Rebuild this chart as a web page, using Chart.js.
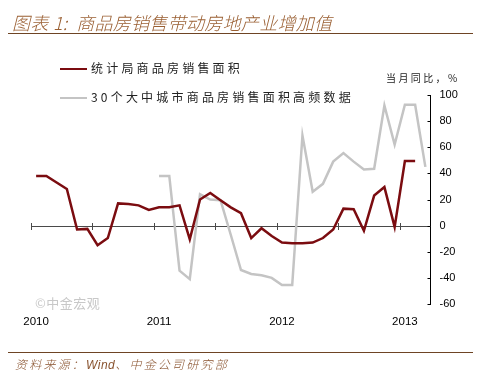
<!DOCTYPE html>
<html>
<head>
<meta charset="utf-8">
<script src="https://cdn.jsdelivr.net/npm/chart.js@4"></script>
<style>
  body { margin: 0; background: #fff; width: 483px; height: 381px; overflow: hidden; position: relative; font-family: "Noto Sans CJK SC", sans-serif; }
  #chart1 { position: absolute; left: 0; top: 0; }
  .title { position: absolute; left: 12px; top: 9px; font-size: 18px; font-weight: 300; font-style: italic; color: #9a5f32; letter-spacing: 0.3px; white-space: nowrap; }
  .rule { position: absolute; left: 8px; width: 465px; height: 0; border-top: 1.5px solid #6e4424; }
  .legend-item { position: absolute; left: 60px; font-size: 12px; color: #222; letter-spacing: 3.2px; white-space: nowrap; }
  .legend-item span { display: inline-block; width: 27px; height: 0; border-top: 2.5px solid; vertical-align: middle; margin-right: 4px; position: relative; top: -1px; }
  .unit { position: absolute; left: 386px; top: 70px; font-size: 10px; letter-spacing: 2.4px; color: #222; white-space: nowrap; }
  .mark { position: absolute; left: 35px; top: 293px; font-size: 13px; color: #c8c8c8; letter-spacing: 0.5px; }
  .source { position: absolute; left: 15px; top: 355px; font-size: 12px; font-weight: 300; font-style: italic; color: #8a5430; letter-spacing: 2.2px; white-space: nowrap; }
  .source b { font-family: Arial, "Liberation Sans", sans-serif; font-weight: normal; letter-spacing: 0.5px; }
</style>
</head>
<body>
<canvas id="chart1" width="483" height="381"></canvas>
<div class="title">图表 1:&nbsp; 商品房销售带动房地产业增加值</div>
<div class="rule" style="top:33px"></div>
<div class="legend-item" style="top:59px"><span style="border-color:#7b0c10"></span>统计局商品房销售面积</div>
<div class="legend-item" style="top:88px"><span style="border-color:#c4c4c4"></span>30个大中城市商品房销售面积高频数据</div>
<div class="unit">当月同比，%</div>
<div class="mark">©中金宏观</div>
<div class="rule" style="top:352px"></div>
<div class="source">资料来源：<b>Wind</b>、中金公司研究部</div>
<script>
const chart1 = document.querySelector('#chart1');

// months Jan 2010 - Mar 2013
const months = [
    '2010-01','2010-02','2010-03','2010-04','2010-05','2010-06','2010-07','2010-08','2010-09','2010-10','2010-11','2010-12',
    '2011-01','2011-02','2011-03','2011-04','2011-05','2011-06','2011-07','2011-08','2011-09','2011-10','2011-11','2011-12',
    '2012-01','2012-02','2012-03','2012-04','2012-05','2012-06','2012-07','2012-08','2012-09','2012-10','2012-11','2012-12',
    '2013-01','2013-02','2013-03'
];
const yearTicks = ['2010', '2011', '2012', '2013'];

// 统计局商品房销售面积, yoy %
const statsArea = [
    38, 38, 33, 28, -3, -2.5, -15, -9.5, 17, 16.5, 15.5, 12,
    14, 14, 15.5, -10.5, 20, 25, 19.5, 14, 9.5, -9.5, -2, -8,
    -13, -13.5, -13.5, -13, -9.5, -3, 13, 12.5, -4, 23, 29.5, -1,
    49.5, 49.5, null
];

// 30个大中城市商品房销售面积高频数据, yoy %
const cityArea = [
    null, null, null, null, null, null, null, null, null, null, null, null,
    38, 38, -34.5, -41, 24, 20, 19.5, -7, -34, -37, -38, -40,
    -45.5, -45.5, 69, 26, 32, 49, 55.5, 49, 43, 43.5, 92, 62,
    92.5, 92.5, 45
];

const yTicks = [-60, -40, -20, 0, 20, 40, 60, 80, 100];

// zero line with half-year ticks, and inward ticks on the right axis
const axisLines = {
    id: 'axisLines',
    beforeDatasetsDraw(chart) {
        const ctx = chart.ctx;
        const x = chart.scales.x;
        const y = chart.scales.y;
        const area = chart.chartArea;
        const y0 = Math.round(y.getPixelForValue(0)) + 0.5;
        const step = x.getPixelForValue(1) - x.getPixelForValue(0);
        ctx.save();
        ctx.strokeStyle = '#4a4a4a';
        ctx.lineWidth = 1;
        ctx.beginPath();
        ctx.moveTo(area.left, y0);
        ctx.lineTo(area.right, y0);
        for (let i = 0; i < months.length; i += 6) {
            const px = Math.round(x.getPixelForValue(i) - step / 2) + 0.5;
            ctx.moveTo(px, y0 - 3.5);
            ctx.lineTo(px, y0 + 3.5);
        }
        ctx.stroke();
        ctx.strokeStyle = '#000';
        ctx.beginPath();
        yTicks.forEach((v) => {
            const py = Math.round(y.getPixelForValue(v)) + 0.5;
            ctx.moveTo(area.right - 3, py);
            ctx.lineTo(area.right, py);
        });
        ctx.stroke();
        ctx.restore();
    }
};

const data = {
    labels: months,
    datasets: [{
        label: '统计局商品房销售面积',
        data: statsArea,
        borderColor: '#7b0c10',
        borderWidth: 2.5,
        pointRadius: 0,
        tension: 0,
        spanGaps: false
    }, {
        label: '30个大中城市商品房销售面积高频数据',
        data: cityArea,
        borderColor: '#c4c4c4',
        borderWidth: 2.5,
        pointRadius: 0,
        tension: 0,
        spanGaps: false
    }]
};

const config = {
    type: 'line',
    data: data,
    plugins: [axisLines],
    options: {
        responsive: false,
        animation: false,
        layout: { padding: { left: 31, top: 95, right: 12.5, bottom: 49 } },
        plugins: { legend: { display: false }, tooltip: { enabled: false } },
        scales: {
            x: {
                offset: true,
                grid: { display: false, drawTicks: false },
                border: { display: false },
                afterFit: (scale) => { scale.height = 28; },
                ticks: {
                    autoSkip: false,
                    maxRotation: 0,
                    padding: 11,
                    color: '#000',
                    font: { family: 'Arial, "Liberation Sans"', size: 11.5 },
                    callback: (val, i) => {
                        const m = months[i];
                        return m.endsWith('-01') && yearTicks.includes(m.slice(0, 4)) ? m.slice(0, 4) : '';
                    }
                }
            },
            y: {
                position: 'right',
                min: -60,
                max: 100,
                grid: { display: false, drawTicks: false },
                border: { display: true, color: '#000', width: 1 },
                afterFit: (scale) => { scale.width = 40; },
                afterBuildTicks: (scale) => { scale.ticks = yTicks.map((v) => ({ value: v })); },
                ticks: {
                    padding: 9,
                    color: '#000',
                    font: { family: 'Arial, "Liberation Sans"', size: 11 }
                }
            }
        }
    }
};

new Chart(chart1, config);
</script>
</body>
</html>
